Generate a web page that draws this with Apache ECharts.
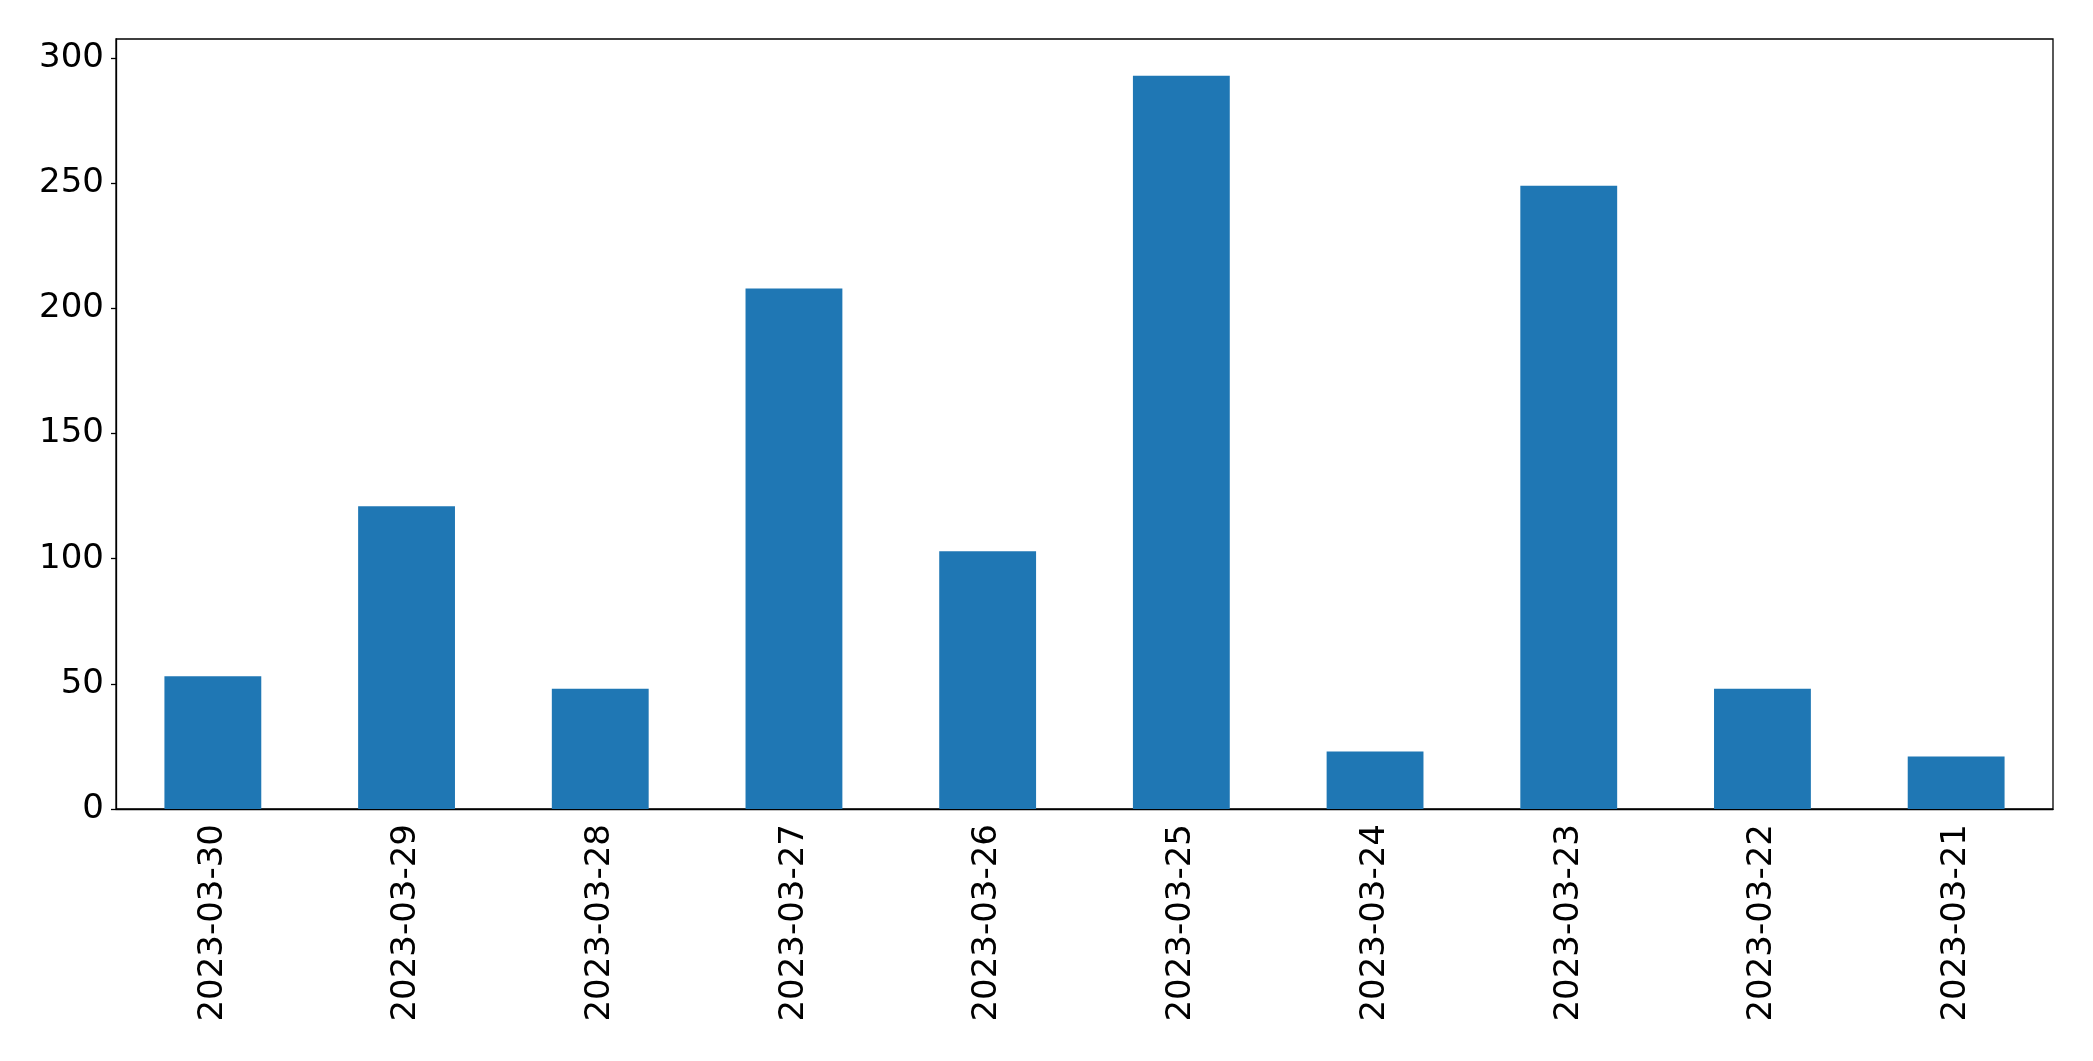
<!DOCTYPE html>
<html>
<head>
<meta charset="utf-8">
<script src="https://cdn.jsdelivr.net/npm/echarts@6/dist/echarts.min.js"></script>
<style>
html,body{margin:0;padding:0;background:#fff;}
#chart{width:2093px;height:1061px;}
</style>
</head>
<body>
<div id="chart"></div>
<script>
const categories = ['2023-03-30','2023-03-29','2023-03-28','2023-03-27','2023-03-26','2023-03-25','2023-03-24','2023-03-23','2023-03-22','2023-03-21'];
const values = [53, 121, 48, 208, 103, 293, 23, 249, 48, 21];
const yTicks = [0, 50, 100, 150, 200, 250, 300];

const chart = echarts.init(document.getElementById('chart'), null, {renderer: 'canvas'});
const font = 'DejaVu Sans';
chart.setOption({
  animation: false,
  backgroundColor: '#ffffff',
  grid: {
    left: 116, right: 40, top: 39, bottom: 252,
    show: true, borderColor: '#000', borderWidth: 1.3, backgroundColor: 'transparent'
  },
  xAxis: {
    type: 'category',
    data: categories,
    boundaryGap: true,
    axisLine: {lineStyle: {color: '#000', width: 1.3}},
    axisTick: {alignWithLabel: true, length: 5, lineStyle: {color: '#000', width: 1.3}},
    axisLabel: {rotate: 90, margin: 15, color: '#000', fontSize: 34, fontFamily: font, interval: 0}
  },
  yAxis: {
    type: 'value',
    min: 0,
    max: Math.max(...values) * 1.05,
    interval: 50,
    splitLine: {show: false},
    axisLine: {show: true, lineStyle: {color: '#000', width: 1.3}},
    axisTick: {show: true, length: 5, customValues: yTicks, lineStyle: {color: '#000', width: 1.3}},
    axisLabel: {margin: 12, color: '#000', fontSize: 34, fontFamily: font, customValues: yTicks}
  },
  series: [{
    type: 'bar',
    data: values,
    barWidth: '50%',
    itemStyle: {color: '#1f77b4'}
  }]
});
</script>
</body>
</html>
